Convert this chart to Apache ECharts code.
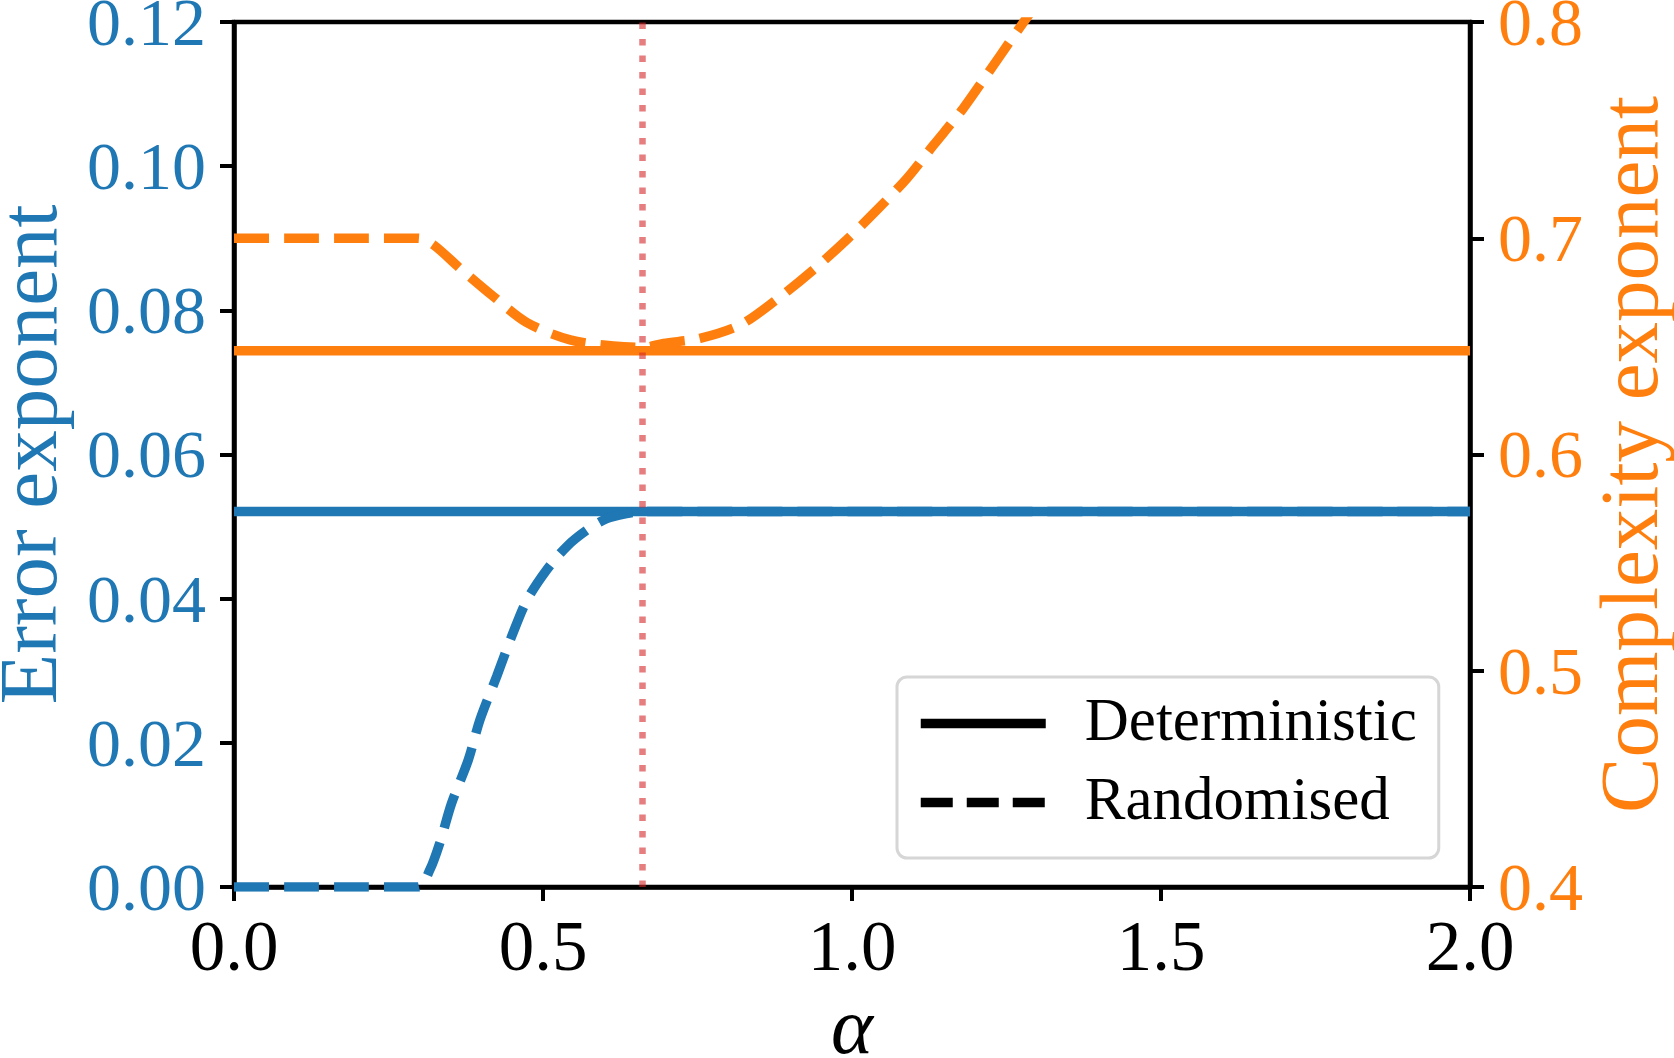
<!doctype html>
<html>
<head>
<meta charset="UTF-8">
<title>Error and complexity exponents</title>
<script src="https://cdn.jsdelivr.net/npm/echarts@6/dist/echarts.min.js"></script>
<style>
  html, body { margin: 0; padding: 0; background: #fff; }
  #main { width: 1674px; height: 1058px; }
</style>
</head>
<body>
<div id="main"></div>
<script type="text/javascript">
// values
var alphaDet = [0, 2];
var errDet = [0.0521, 0.0521];
var complexDet = [0.648, 0.648];

var alphaErrRand = [0, 0.1, 0.2, 0.298, 0.317, 0.333, 0.352, 0.379, 0.398, 0.425, 0.449, 0.474, 0.506, 0.538, 0.571, 0.603, 0.635, 0.662, 0.8, 1.0, 1.5, 2.0];
var errRand = [0, 0, 0, 0, 0.0024, 0.0061, 0.0116, 0.0176, 0.0232, 0.0292, 0.0347, 0.0398, 0.044, 0.0472, 0.0495, 0.0511, 0.0518, 0.0521, 0.0521, 0.0521, 0.0521, 0.0521];

var alphaComplexRand = [0, 0.1, 0.2, 0.298, 0.3225, 0.366, 0.42, 0.474, 0.544, 0.614, 0.662, 0.695, 0.754, 0.819, 0.877, 0.937, 0.991, 1.04, 1.089, 1.132, 1.178, 1.218, 1.261, 1.32];
var complexRand = [0.7, 0.7, 0.7, 0.7, 0.697, 0.686, 0.673, 0.661, 0.653, 0.6502, 0.6495, 0.6514, 0.6537, 0.6599, 0.6714, 0.6853, 0.6992, 0.713, 0.7277, 0.7431, 0.7593, 0.7755, 0.7932, 0.817];

var alphaStar = 0.662;

var xTicks = [0, 0.5, 1, 1.5, 2];
var errTicks = [0, 0.02, 0.04, 0.06, 0.08, 0.10, 0.12];
var complexTicks = [0.4, 0.5, 0.6, 0.7, 0.8];

function pairs(xs, ys) {
    var out = [];
    for (var i = 0; i < xs.length; i++) {
        out.push([xs[i], ys[i]]);
    }
    return out;
}

var blue = '#1f77b4';
var orange = '#ff7f0e';
var font = 'Liberation Serif';
var lw = 9.5;
var dash = [35, 15];

var myChart = echarts.init(document.getElementById('main'));

var option = {
    animation: false,
    backgroundColor: '#fff',
    grid: {
        left: 234, right: 204, top: 22, bottom: 171,
        outerBoundsMode: 'none',
        show: true, borderColor: '#000', borderWidth: 4.5
    },
    legend: {
        data: [{
            name: 'Deterministic',
            lineStyle: { color: '#000', width: lw, type: 'solid' },
            itemStyle: { opacity: 0 }
        }, {
            name: 'Randomised',
            lineStyle: { color: '#000', width: lw, type: [32, 14] },
            itemStyle: { opacity: 0 }
        }],
        orient: 'vertical',
        left: 897, top: 677,
        padding: [16, 22, 25, 19],
        itemWidth: 125, itemHeight: 20,
        itemGap: 18,
        backgroundColor: '#fff',
        borderColor: '#d6d6d6', borderWidth: 3, borderRadius: 10,
        textStyle: {
            fontFamily: font, fontSize: 61, color: '#000',
            lineHeight: 60, padding: [0, 0, 0, 34]
        }
    },
    xAxis: {
        type: 'value',
        min: 0, max: 2,
        name: 'α',
        nameLocation: 'middle',
        nameGap: 104,
        nameTextStyle: { fontFamily: font, fontSize: 80, fontStyle: 'italic', color: '#000' },
        axisLine: { lineStyle: { color: '#000', width: 4.5 } },
        axisTick: { customValues: xTicks, length: 14, lineStyle: { color: '#000', width: 4 } },
        axisLabel: {
            customValues: xTicks,
            margin: 29,
            fontFamily: font, fontSize: 71, color: '#000',
            formatter: function (v) { return v.toFixed(1); }
        },
        splitLine: { show: false }
    },
    yAxis: [{
        type: 'value',
        position: 'left',
        min: 0, max: 0.12,
        name: 'Error exponent',
        nameLocation: 'middle',
        nameGap: 152,
        nameTextStyle: { fontFamily: font, fontSize: 83, color: blue },
        axisLine: { show: true, lineStyle: { color: '#000', width: 4.5 } },
        axisTick: { show: true, customValues: errTicks, length: 14, lineStyle: { color: '#000', width: 4 } },
        axisLabel: {
            customValues: errTicks,
            margin: 28,
            formatter: function (v) { return '{t|' + v.toFixed(2) + '}'; },
            rich: { t: { fontFamily: font, fontSize: 68, color: blue, padding: [10, 0, 0, 0] } }
        },
        splitLine: { show: false }
    }, {
        type: 'value',
        position: 'right',
        min: 0.4, max: 0.8,
        name: 'Complexity exponent',
        nameLocation: 'middle',
        nameRotate: 90,
        nameGap: 123,
        nameTextStyle: { fontFamily: font, fontSize: 83, color: orange },
        axisLine: { show: true, lineStyle: { color: '#000', width: 4.5 } },
        axisTick: { show: true, customValues: complexTicks, length: 14, lineStyle: { color: '#000', width: 4 } },
        axisLabel: {
            customValues: complexTicks,
            margin: 28,
            formatter: function (v) { return '{t|' + v.toFixed(1) + '}'; },
            rich: { t: { fontFamily: font, fontSize: 68, color: orange, padding: [10, 0, 0, 0] } }
        },
        splitLine: { show: false }
    }],
    series: [{
        name: 'Error deterministic',
        type: 'line', yAxisIndex: 0,
        data: pairs(alphaDet, errDet),
        symbol: 'none',
        lineStyle: { color: blue, width: lw },
        itemStyle: { color: blue }
    }, {
        name: 'Error randomised',
        type: 'line', yAxisIndex: 0,
        data: pairs(alphaErrRand, errRand),
        symbol: 'none',
        smooth: 0.3,
        lineStyle: { color: blue, width: lw, type: dash },
        itemStyle: { color: blue }
    }, {
        name: 'Complexity deterministic',
        type: 'line', yAxisIndex: 1,
        data: pairs(alphaDet, complexDet),
        symbol: 'none',
        lineStyle: { color: orange, width: lw },
        itemStyle: { color: orange }
    }, {
        name: 'Complexity randomised',
        type: 'line', yAxisIndex: 1,
        data: pairs(alphaComplexRand, complexRand),
        symbol: 'none',
        smooth: 0.3,
        lineStyle: { color: orange, width: lw, type: dash },
        itemStyle: { color: orange },
        markLine: {
            silent: true,
            symbol: 'none',
            z: 10,
            label: { show: false },
            lineStyle: { color: '#d62728', opacity: 0.6, width: 6.5, type: [6.5, 10] },
            data: [{ xAxis: alphaStar }]
        }
    }, {
        name: 'Deterministic',
        type: 'line', data: [],
        symbol: 'none',
        lineStyle: { color: '#000', width: lw },
        itemStyle: { color: '#000' }
    }, {
        name: 'Randomised',
        type: 'line', data: [],
        symbol: 'none',
        lineStyle: { color: '#000', width: lw, type: dash },
        itemStyle: { color: '#000' }
    }]
};

myChart.setOption(option);
</script>
</body>
</html>
